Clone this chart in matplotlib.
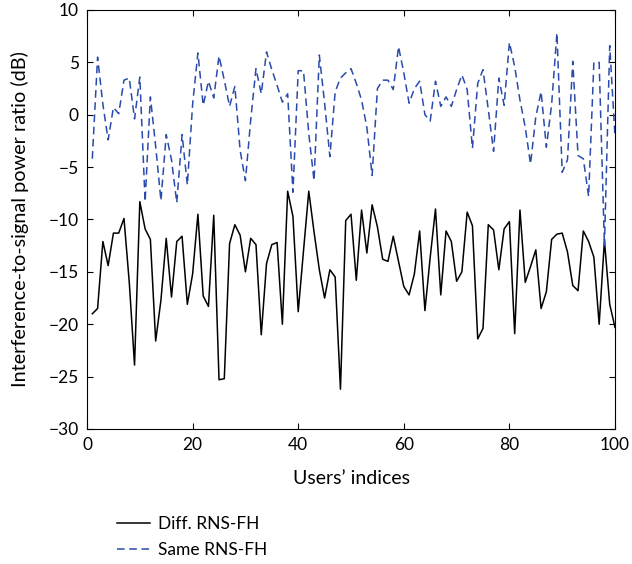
import matplotlib
matplotlib.use("Agg")
import matplotlib.pyplot as plt
import numpy as np

# user indices 1..100
users = np.arange(1, 101)

diff_rns = [
    -19.0, -18.5, -12.1, -14.4, -11.3, -11.3, -9.9, -16.0, -23.9, -8.3,
    -10.9, -11.9, -21.6, -17.7, -11.8, -17.4, -12.1, -11.6, -18.1, -15.2,
    -9.5, -17.3, -18.3, -9.6, -25.3, -25.2, -12.3, -10.5, -11.5, -15.0,
    -11.8, -12.4, -21.0, -14.2, -12.4, -12.2, -20.0, -7.3, -9.7, -18.8,
    -13.0, -7.3, -11.2, -14.8, -17.5, -14.8, -15.5, -26.2, -10.1, -9.5,
    -15.8, -9.1, -13.2, -8.6, -10.7, -13.8, -14.0, -11.6, -14.0, -16.4,
    -17.2, -15.2, -11.1, -18.7, -13.6, -9.0, -17.2, -11.1, -12.1, -15.9,
    -15.0, -9.3, -10.6, -21.4, -20.4, -10.5, -11.0, -14.8, -10.9, -10.2,
    -20.9, -9.1, -16.0, -14.5, -12.9, -18.5, -16.9, -11.9, -11.4, -11.3,
    -13.1, -16.3, -16.8, -11.1, -12.1, -13.6, -20.0, -12.0, -18.1, -20.3,
]

same_rns = [
    -4.2, 5.5, 1.0, -2.4, 0.7, 0.1, 3.3, 3.5, -0.4, 3.6,
    -8.3, 1.7, -3.0, -8.2, -1.9, -4.3, -8.4, -1.9, -6.7, 1.0,
    5.9, 0.9, 3.2, 1.6, 5.6, 3.3, 0.8, 2.7, -3.4, -6.3,
    -0.5, 4.4, 2.0, 6.0, 4.3, 2.8, 1.2, 2.0, -7.4, 4.2,
    4.2, -1.8, -6.3, 5.7, 1.1, -4.0, 2.2, 3.5, 4.0, 4.4,
    3.0, 1.4, -1.2, -5.8, 2.5, 3.3, 3.3, 2.4, 6.5, 4.0,
    1.1, 2.5, 3.2, 0.0, -0.6, 3.2, 0.8, 1.7, 0.8, 2.4,
    3.8, 2.4, -3.2, 3.0, 4.3, 0.5, -3.5, 3.5, 0.9, 6.9,
    4.6, 1.4, -1.2, -4.7, -0.2, 2.2, -3.1, 1.0, 7.8, -5.5,
    -4.3, 5.1, -3.9, -4.2, -7.8, 5.0, 5.0, -12.5, 6.6, -2.1,
]

plt.rcParams['font.family'] = ['Lato', 'DejaVu Sans']

fig = plt.figure(figsize=(6.32, 5.64), dpi=100)
ax = fig.add_axes([0.1377, 0.2394, 0.8354, 0.7429])

l1, = ax.plot(users, diff_rns, color='black', lw=1.1, label='Diff. RNS-FH')
l2, = ax.plot(users, same_rns, color='#2a4bab', lw=1.1, ls=(0, (5, 3)), label='Same RNS-FH')

ax.set_xlim(0, 100)
ax.set_ylim(-30, 10)
ax.set_xticks(np.arange(0, 101, 20))
ax.set_yticks(np.arange(-30, 11, 5))
ax.tick_params(direction='in', top=True, right=True, labelsize=12.5, length=4, pad=6)
ax.set_xlabel("Users\u2019 indices", fontsize=14, labelpad=12)
ax.set_ylabel("Interference-to-signal power ratio (dB)", fontsize=14.3, labelpad=14)

fig.legend(handles=[l1, l2], loc='upper left', bbox_to_anchor=(0.161, 0.112),
           frameon=False, fontsize=12.5, handlelength=1.9, handletextpad=0.45,
           labelspacing=0.55)

fig.savefig('out.png', dpi=100)
